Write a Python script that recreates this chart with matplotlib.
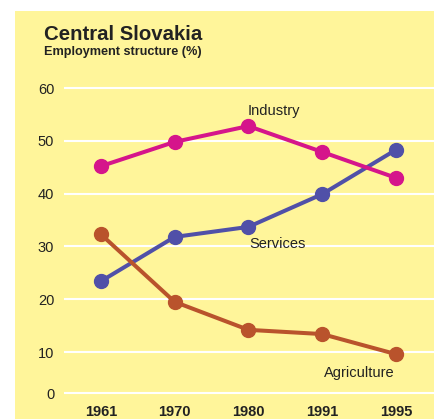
import matplotlib.pyplot as plt
from matplotlib.patches import Rectangle

plt.rcParams['font.family'] = ['Liberation Sans', 'DejaVu Sans']

years = ['1961', '1970', '1980', '1991', '1995']
industry = [45.2, 49.8, 52.8, 47.9, 43.0]
services = [23.4, 31.8, 33.7, 39.9, 48.3]
agriculture = [32.3, 19.5, 14.2, 13.4, 9.6]
tick_vals = [2.2, 10, 20, 30, 40, 50, 60]   # the 0 line sits a bit higher (broken axis in original)
tick_labels = ['0', '10', '20', '30', '40', '50', '60']

W, H = 435, 419
fig = plt.figure(figsize=(W / 100, H / 100), dpi=100)
fig.patch.set_facecolor('white')
fig.patches.append(Rectangle((15 / W, 0), 1, 1 - 11 / H, transform=fig.transFigure,
                             facecolor='#FFF59A', edgecolor='none', zorder=-10))

ax = fig.add_axes([64 / W, 0, 1 - 64 / W, 1 - 11 / H])
ax.set_facecolor('none')
ax.set_xlim(-0.50, 4.53)
ax.set_ylim(-2.69, 74.6)
x = range(len(years))

ax.plot(x, services, color='#5050A8', lw=2.9, marker='o', ms=10, clip_on=False, zorder=3)
ax.plot(x, agriculture, color='#B9532C', lw=2.9, marker='o', ms=10, clip_on=False, zorder=4)
ax.plot(x, industry, color='#D5158B', lw=2.9, marker='o', ms=10, clip_on=False, zorder=5)

ax.set_yticks(tick_vals)
ax.set_yticklabels(tick_labels, fontsize=10.5, color='#222222')
ax.tick_params(axis='y', length=0, pad=7)
ax.set_xticks([])
ax.yaxis.grid(True, color='white', lw=1.5)
ax.set_axisbelow(True)
for s in ax.spines.values():
    s.set_visible(False)

for i, yr in enumerate(years):
    ax.text(i, -1.36, yr, ha='center', va='center', fontsize=10.5, fontweight='bold', color='#222222')

ax.text(2.35, 55.6, 'Industry', ha='center', va='center', fontsize=10.5, color='#222222')
ax.text(2.39, 30.4, 'Services', ha='center', va='center', fontsize=10.5, color='#222222')
ax.text(3.5, 6.0, 'Agriculture', ha='center', va='center', fontsize=10.5, color='#222222')

fig.text(44 / W, 1 - 35 / H, 'Central Slovakia', fontsize=14.7, fontweight='bold', color='#222222',
         va='center', ha='left')
fig.text(44 / W, 1 - 52 / H, 'Employment structure (%)', fontsize=9.1, fontweight='bold', color='#222222',
         va='center', ha='left')

fig.savefig('out.png', dpi=100)
